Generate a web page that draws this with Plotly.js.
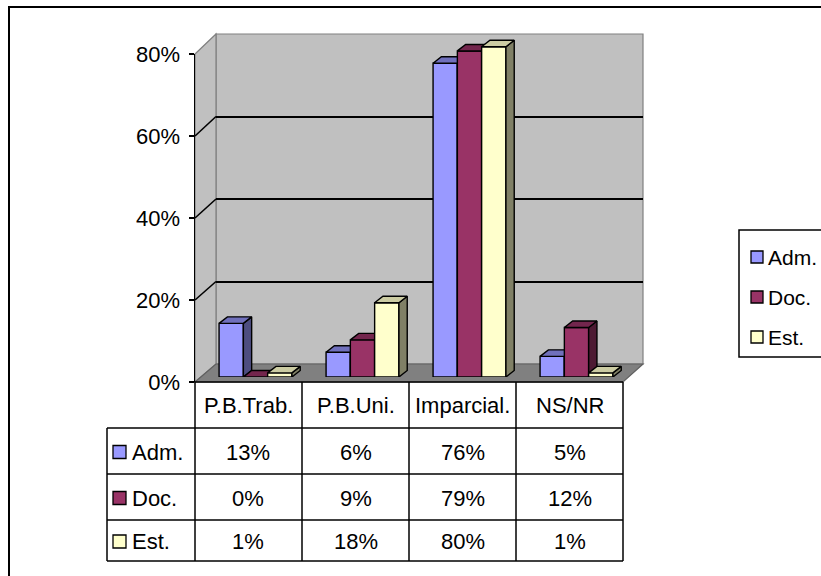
<!DOCTYPE html>
<html><head><meta charset="utf-8">
<script src="https://cdn.plot.ly/plotly-3.0.1.min.js"></script>
<style>html,body{margin:0;padding:0;background:#fff}#chart{width:821px;height:576px}</style>
</head><body><div id="chart"></div>
<script>
// ---------- data ----------
const categories = ['P.B.Trab.', 'P.B.Uni.', 'Imparcial.', 'NS/NR'];
const seriesNames = ['Adm.', 'Doc.', 'Est.'];
const admValues = [13, 6, 76, 5];
const docValues = [0, 9, 79, 12];
const estValues = [1, 18, 80, 1];
const yTickValues = [0, 20, 40, 60, 80];

// ---------- styles ----------
const seriesValues = [admValues, docValues, estValues];
const frontColors = ['#9999FF', '#993366', '#FFFFCC'];
const topColors = ['#7070BC', '#73264D', '#CCCCA3'];
const sideColors = ['#4D4D80', '#4D1A33', '#808066'];
const FONT = 'Liberation Sans, Arial, sans-serif';

const W = 821, H = 576;
const fx = p => p / W, fy = p => 1 - p / H;

// geometry in px
const wallFrontX = 195, wallBackX = 216, wallRightBackX = 643, wallRightFrontX = 623;
const frontZeroY = 382, frontTopY = 54, backZeroY = 364, backTopY = 34;
const yMax = 80;
const barZeroY = 377, barPxPerUnit = 4.1275, barYMax = 90;
const catPx = 107, firstCatCenter = 255.5;
const barW = 0.227, depthX = 8.3 / catPx, depthY = 6.5 / barPxPerUnit;
const rowLines = [382, 428, 474, 520, 561];
const rowHeaderLeft = 107;

const frontY = v => frontZeroY - v * (frontZeroY - frontTopY) / yMax;
const backY = v => backZeroY - v * (backZeroY - backTopY) / yMax;

// ---------- traces ----------
const traces = [];
// empty traces so that the wall-grid subplot and the value-axis subplot are created
traces.push({type: 'scatter', mode: 'lines', x: [], y: [], xaxis: 'x', yaxis: 'y', hoverinfo: 'skip', showlegend: false});
traces.push({type: 'scatter', mode: 'lines', x: [], y: [], xaxis: 'x3', yaxis: 'y3', hoverinfo: 'skip', showlegend: false});

function addPoly(face, pts) {
  pts.forEach(p => { face.x.push(p[0]); face.y.push(p[1]); });
  face.x.push(null); face.y.push(null);
}
seriesValues.forEach((vals, s) => {
  const front = {x: [], y: []}, side = {x: [], y: []}, top = {x: [], y: []};
  vals.forEach((v, c) => {
    const x0 = c - 1.5 * barW + s * barW, x1 = x0 + barW;
    addPoly(front, [[x0, 0], [x1, 0], [x1, v], [x0, v], [x0, 0]]);
    addPoly(side, [[x1, 0], [x1 + depthX, depthY], [x1 + depthX, v + depthY], [x1, v], [x1, 0]]);
    addPoly(top, [[x0, v], [x1, v], [x1 + depthX, v + depthY], [x0 + depthX, v + depthY], [x0, v]]);
  });
  [[front, frontColors[s]], [side, sideColors[s]], [top, topColors[s]]].forEach(([f, col]) => {
    traces.push({
      type: 'scatter', mode: 'lines', x: f.x, y: f.y, xaxis: 'x2', yaxis: 'y2',
      fill: 'toself', fillcolor: col, line: {color: '#000', width: 1.4},
      hoverinfo: 'skip', showlegend: false, name: seriesNames[s]
    });
  });
});

// ---------- shapes ----------
const shapes = [];
const pathOf = pts => pts.map((p, i) => (i ? 'L' : 'M') + fx(p[0]) + ',' + fy(p[1])).join(' ') + ' Z';
// outer frame
shapes.push({type: 'rect', xref: 'paper', yref: 'paper', x0: fx(9), x1: fx(840), y0: fy(600), y1: fy(7),
  line: {color: '#000', width: 2}, fillcolor: 'rgba(0,0,0,0)', layer: 'below'});
// back wall
shapes.push({type: 'rect', xref: 'paper', yref: 'paper', x0: fx(wallBackX), x1: fx(wallRightBackX), y0: fy(backZeroY), y1: fy(backTopY),
  fillcolor: '#C0C0C0', line: {color: '#808080', width: 1.2}, layer: 'below'});
// left wall
shapes.push({type: 'path', xref: 'paper', yref: 'paper',
  path: pathOf([[wallFrontX, frontY(yMax)], [wallBackX, backY(yMax)], [wallBackX, backY(0)], [wallFrontX, frontY(0)]]),
  fillcolor: '#C0C0C0', line: {color: '#808080', width: 1.2}, layer: 'below'});
// floor
shapes.push({type: 'path', xref: 'paper', yref: 'paper',
  path: pathOf([[wallFrontX, frontY(0)], [wallBackX, backY(0)], [wallRightBackX, backY(0)], [wallRightFrontX, frontY(0)]]),
  fillcolor: '#808080', line: {color: '#606060', width: 1.2}, layer: 'below'});
// gridlines on left wall
yTickValues.filter(v => v > 0 && v < yMax).forEach(v => {
  shapes.push({type: 'line', xref: 'paper', yref: 'paper', x0: fx(wallFrontX), y0: fy(frontY(v)), x1: fx(wallBackX), y1: fy(backY(v)),
    line: {color: '#000', width: 1.6}});
});
// table lines
const colEdges = [0, 1, 2, 3, 4].map(i => wallFrontX + i * catPx);
rowLines.forEach((y, i) => {
  shapes.push({type: 'line', xref: 'paper', yref: 'paper', x0: fx(i === 0 ? wallFrontX : rowHeaderLeft), x1: fx(colEdges[4]),
    y0: fy(y), y1: fy(y), line: {color: '#000', width: 1.5}});
});
colEdges.forEach(x => {
  shapes.push({type: 'line', xref: 'paper', yref: 'paper', x0: fx(x), x1: fx(x), y0: fy(rowLines[0]), y1: fy(rowLines[4]),
    line: {color: '#000', width: 1.5}});
});
shapes.push({type: 'line', xref: 'paper', yref: 'paper', x0: fx(rowHeaderLeft), x1: fx(rowHeaderLeft), y0: fy(rowLines[1]), y1: fy(rowLines[4]),
  line: {color: '#000', width: 1.5}});
// legend box
const legendTop = 230, legendBottom = 357, legendLeft = 739;
shapes.push({type: 'rect', xref: 'paper', yref: 'paper', x0: fx(legendLeft), x1: fx(840), y0: fy(legendBottom), y1: fy(legendTop),
  line: {color: '#000', width: 1.5}, fillcolor: '#fff'});

// ---------- annotations ----------
const annotations = [];
const txt = (text, x, y, anchor, size) => annotations.push({text, x: fx(x), y: fy(y), xref: 'paper', yref: 'paper',
  xanchor: anchor, yanchor: 'middle', showarrow: false, font: {family: FONT, size: size, color: '#000'}});
const swatch = (x, y, size, color) => shapes.push({type: 'rect', xref: 'paper', yref: 'paper',
  x0: fx(x), x1: fx(x + size), y0: fy(y + size / 2), y1: fy(y - size / 2), fillcolor: color, line: {color: '#000', width: 1.3}});

categories.forEach((c, i) => txt(c, (colEdges[i] + colEdges[i + 1]) / 2, (rowLines[0] + rowLines[1]) / 2, 'center', 22));
seriesValues.forEach((vals, s) => {
  const yc = (rowLines[s + 1] + rowLines[s + 2]) / 2 + 1;
  swatch(113, yc, 13, frontColors[s]);
  txt(seriesNames[s], 130, yc, 'left', 22);
  vals.forEach((v, i) => txt(v + '%', (colEdges[i] + colEdges[i + 1]) / 2, yc, 'center', 22));
});
const legendYs = [257, 297, 337];
seriesNames.forEach((n, s) => {
  swatch(751, legendYs[s], 12, frontColors[s]);
  txt(n, 766, legendYs[s], 'left', 21);
});

// ---------- layout ----------
const layout = {
  width: W, height: H, margin: {l: 0, r: 0, t: 0, b: 0},
  paper_bgcolor: '#fff', plot_bgcolor: 'rgba(0,0,0,0)', showlegend: false,
  font: {family: FONT, color: '#000'},
  xaxis: {domain: [fx(wallBackX), fx(wallRightBackX)], range: [0, 1], anchor: 'y', fixedrange: true,
    showgrid: false, zeroline: false, showline: false, showticklabels: false, ticks: ''},
  yaxis: {domain: [fy(backZeroY), fy(backTopY)], range: [0, yMax], anchor: 'x',
    tickvals: yTickValues.filter(v => v > 0 && v < yMax), showticklabels: false, ticks: '',
    showgrid: true, gridcolor: '#000', gridwidth: 2, zeroline: false, showline: false, fixedrange: true},
  xaxis2: {domain: [fx(wallFrontX), fx(wallRightFrontX)],
    range: [-(firstCatCenter - wallFrontX) / catPx, -(firstCatCenter - wallFrontX) / catPx + (wallRightFrontX - wallFrontX) / catPx],
    anchor: 'y2', fixedrange: true, showgrid: false, zeroline: false, showline: false, showticklabels: false, ticks: ''},
  yaxis2: {domain: [fy(barZeroY), fy(barZeroY - barYMax * barPxPerUnit)], range: [0, barYMax], anchor: 'x2', fixedrange: true,
    showgrid: false, zeroline: false, showline: false, showticklabels: false, ticks: ''},
  xaxis3: {domain: [fx(wallFrontX), fx(wallFrontX + 4)], range: [0, 1], anchor: 'y3', fixedrange: true,
    showgrid: false, zeroline: false, showline: false, showticklabels: false, ticks: ''},
  yaxis3: {domain: [fy(frontZeroY), fy(frontTopY)], range: [0, yMax], anchor: 'x3',
    tickmode: 'array', tickvals: yTickValues, ticktext: yTickValues.map(v => v + '%'),
    ticks: 'outside', ticklen: 5, tickwidth: 1.5, tickcolor: '#000', ticklabelstandoff: 4,
    showline: true, linecolor: '#000', linewidth: 1.5, showgrid: false, zeroline: false,
    tickfont: {family: FONT, size: 22, color: '#000'}, fixedrange: true},
  shapes, annotations
};

Plotly.newPlot('chart', traces, layout, {staticPlot: true, displayModeBar: false});
</script>
</body></html>
